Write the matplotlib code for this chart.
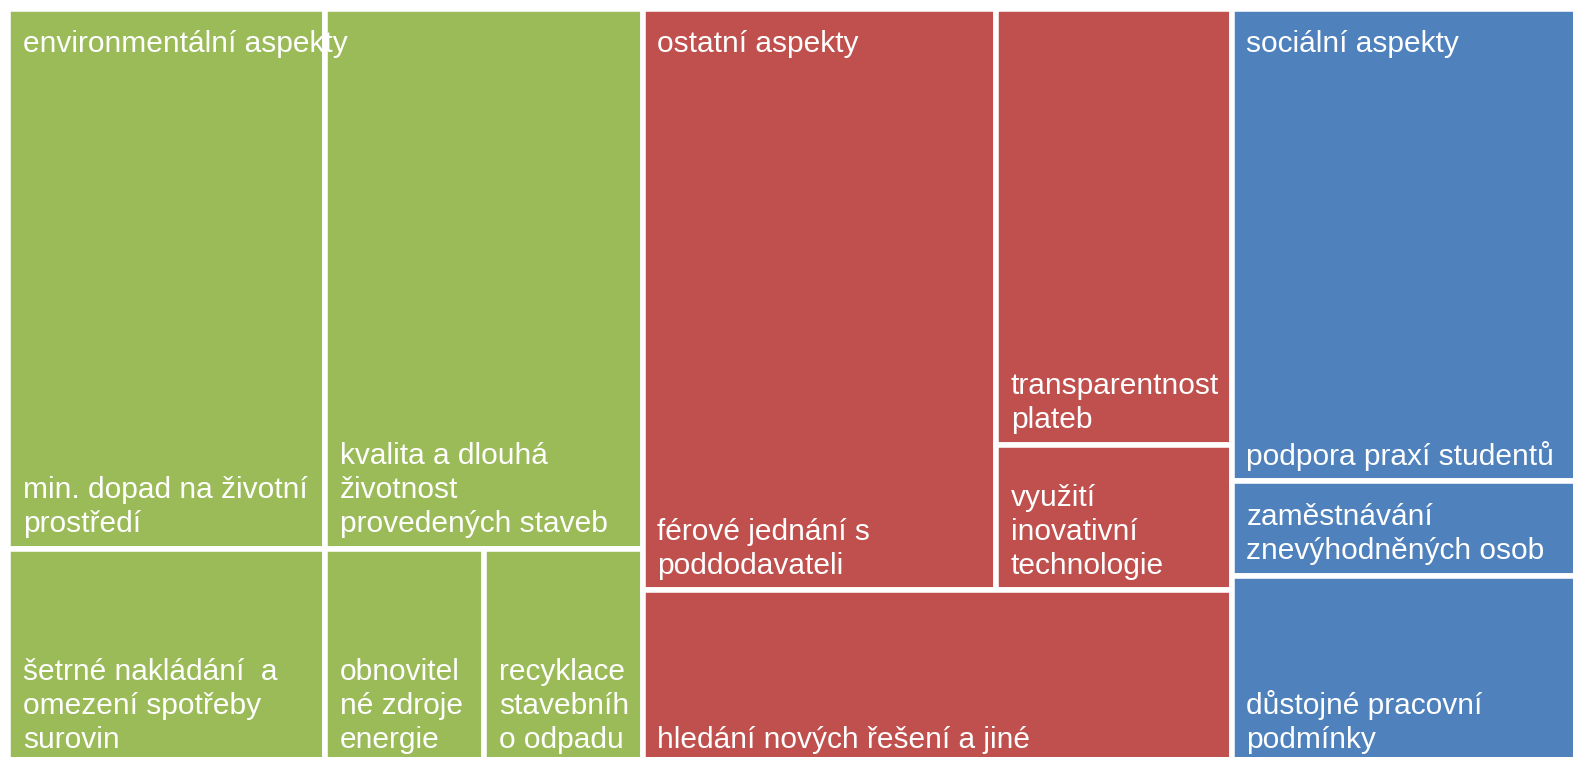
import matplotlib
matplotlib.use("Agg")
import matplotlib.pyplot as plt
from matplotlib.patches import Rectangle

plt.rcParams['font.family'] = ['Liberation Sans', 'DejaVu Sans']

# ---------------- data ----------------
groups = ["environmentální aspekty", "ostatní aspekty", "sociální aspekty"]
group_colors = ["#9BBB59", "#C0504D", "#4F81BD"]

env_labels = ["min. dopad na životní\nprostředí",
              "kvalita a dlouhá\nživotnost\nprovedených staveb",
              "šetrné nakládání  a\nomezení spotřeby\nsurovin",
              "obnovitel\nné zdroje\nenergie",
              "recyklace\nstavebníh\no odpadu"]
env_values = [5, 5, 2, 1, 1]

oth_labels = ["férové jednání s\npoddodavateli",
              "transparentnost\nplateb",
              "využití\ninovativní\ntechnologie",
              "hledání nových řešení a jiné"]
oth_values = [6, 3, 1, 3]

soc_labels = ["podpora praxí studentů",
              "zaměstnávání\nznevýhodněných osob",
              "důstojné pracovní\npodmínky"]
soc_values = [5, 1, 2]

# nesting of the tiles inside each group (split direction, children)
env_layout = ('v', [('h', [0, 1]), ('h', [2, 3, 4])])
oth_layout = ('v', [('h', [0, ('v', [1, 2])]), 3])
soc_layout = ('v', [0, 1, 2])

group_data = [(env_labels, env_values, env_layout),
              (oth_labels, oth_values, oth_layout),
              (soc_labels, soc_values, soc_layout)]


# ---------------- layout ----------------
def node_sum(node, values):
    if isinstance(node, int):
        return values[node]
    return sum(node_sum(c, values) for c in node[1])


def layout(node, values, x, y, w, h, out):
    if isinstance(node, int):
        out[node] = (x, y, w, h)
        return
    direction, children = node
    total = node_sum(node, values)
    pos = 0.0
    for c in children:
        frac = node_sum(c, values) / total
        if direction == 'h':
            layout(c, values, x + pos * w, y, frac * w, h, out)
        else:
            layout(c, values, x, y + pos * h, w, frac * h, out)
        pos += frac


# ---------------- figure ----------------
FW, FH = 1573, 757
fig = plt.figure(figsize=(FW / 100, FH / 100), dpi=100)
x0, x1, y0, y1 = 8.25, 1594.0, 9.25, 764.5
ax = fig.add_axes([x0 / FW, (FH - y1) / FH, (x1 - x0) / FW, (y1 - y0) / FH])
ax.set_xlim(0, 1)
ax.set_ylim(1, 0)
ax.axis('off')

FS = 21.5
PADX = 14.75
LINE = 34.0
BOTTOM = 16.5
TOP = 42.5

group_totals = [sum(v) for _, v, _ in group_data]
grand = sum(group_totals)
gx = 0.0
for gi, (labels, values, lay) in enumerate(group_data):
    gw = group_totals[gi] / grand
    rects = {}
    layout(lay, values, gx, 0.0, gw, 1.0, rects)
    for i, lab in enumerate(labels):
        rx, ry, rw, rh = rects[i]
        ax.add_patch(Rectangle((rx, ry), rw, rh, facecolor=group_colors[gi],
                               edgecolor='white', linewidth=4.0, zorder=1))
        lines = lab.split("\n")
        for k, line in enumerate(reversed(lines)):
            ax.annotate(line, xy=(rx, ry + rh), xytext=(PADX, BOTTOM + k * LINE),
                        textcoords='offset pixels', ha='left', va='baseline',
                        color='white', fontsize=FS, zorder=3, annotation_clip=False)
    ax.annotate(groups[gi], xy=(gx, 0.0), xytext=(PADX, -TOP),
                textcoords='offset pixels', ha='left', va='baseline',
                color='white', fontsize=FS, zorder=3, annotation_clip=False)
    gx += gw

fig.savefig("out.png", dpi=100, facecolor='white')
